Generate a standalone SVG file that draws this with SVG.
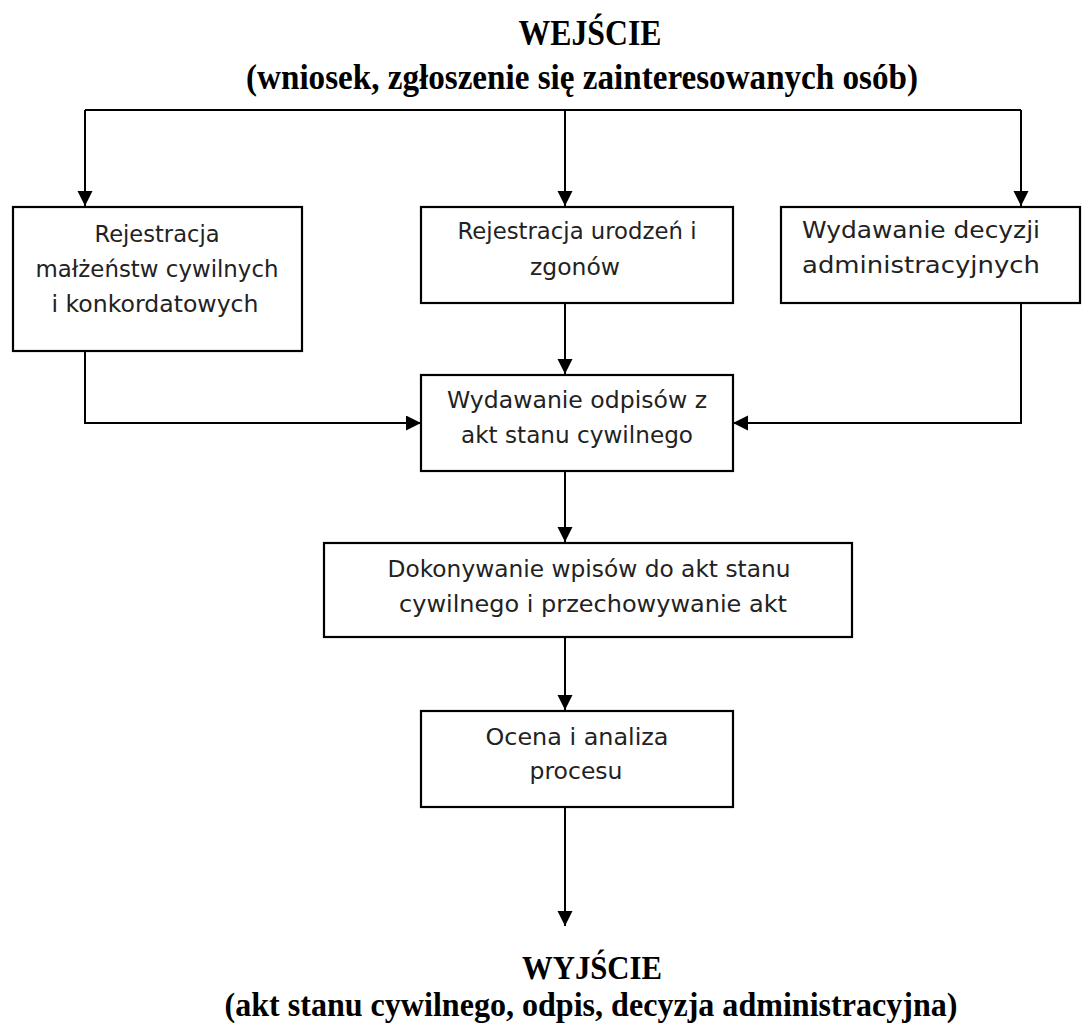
<svg xmlns="http://www.w3.org/2000/svg" width="1082" height="1025" viewBox="0 0 1082 1025">
<defs>
<marker id="arr" markerWidth="16" markerHeight="16" refX="15" refY="7.5" orient="auto" markerUnits="userSpaceOnUse">
<path d="M0,0 L15,7.5 L0,15 Z" fill="#000"/>
</marker>
<style>
.box{fill:#fff;stroke:#000;stroke-width:2.2}
.t{font-family:"DejaVu Sans","Liberation Sans",sans-serif;font-size:22.5px;fill:#222;text-anchor:middle}
.h{font-family:"Liberation Serif","Times New Roman",serif;font-size:35px;font-weight:bold;fill:#000;text-anchor:middle}
.hs{font-size:33px}
.c{fill:none;stroke:#000;stroke-width:2}
</style>
</defs>
<rect width="1082" height="1025" fill="#fff"/>
<g id="title-in">
<text class="h" x="590" y="45" textLength="143" lengthAdjust="spacingAndGlyphs">WEJŚCIE</text>
<text class="h" x="582" y="89" textLength="672" lengthAdjust="spacingAndGlyphs">(wniosek, zgłoszenie się zainteresowanych osób)</text>
</g>
<g id="connectors">
<path class="c" d="M85,110 L1021,110"/>
<path class="c" d="M85,110 L85,206" marker-end="url(#arr)"/>
<path class="c" d="M565,110 L565,206" marker-end="url(#arr)"/>
<path class="c" d="M1021,110 L1021,206" marker-end="url(#arr)"/>
<path class="c" d="M565,303 L565,374" marker-end="url(#arr)"/>
<path class="c" d="M85,351 L85,423 L421,423" marker-end="url(#arr)"/>
<path class="c" d="M1021,303 L1021,423 L733,423" marker-end="url(#arr)"/>
<path class="c" d="M565,471 L565,542" marker-end="url(#arr)"/>
<path class="c" d="M565,637 L565,710" marker-end="url(#arr)"/>
<path class="c" d="M565,807 L565,926" marker-end="url(#arr)"/>
</g>
<g id="node-malzenstwa">
<rect class="box" x="13" y="207" width="289" height="144"/>
<text class="t" x="157" y="242" textLength="125" lengthAdjust="spacingAndGlyphs">Rejestracja</text>
<text class="t" x="157" y="277" textLength="243" lengthAdjust="spacingAndGlyphs">małżeństw cywilnych</text>
<text class="t" x="155" y="312" textLength="207" lengthAdjust="spacingAndGlyphs">i konkordatowych</text>
</g>
<g id="node-urodzenia">
<rect class="box" x="421" y="207" width="312" height="96"/>
<text class="t" x="577" y="239" textLength="239" lengthAdjust="spacingAndGlyphs">Rejestracja urodzeń i</text>
<text class="t" x="575" y="275" textLength="90" lengthAdjust="spacingAndGlyphs">zgonów</text>
</g>
<g id="node-decyzje">
<rect class="box" x="781" y="207" width="299" height="96"/>
<text class="t" x="921" y="238" textLength="238" lengthAdjust="spacingAndGlyphs">Wydawanie decyzji</text>
<text class="t" x="921" y="273" textLength="238" lengthAdjust="spacingAndGlyphs">administracyjnych</text>
</g>
<g id="node-odpisy">
<rect class="box" x="421" y="375" width="312" height="96"/>
<text class="t" x="577" y="408" textLength="260" lengthAdjust="spacingAndGlyphs">Wydawanie odpisów z</text>
<text class="t" x="577" y="443" textLength="232" lengthAdjust="spacingAndGlyphs">akt stanu cywilnego</text>
</g>
<g id="node-wpisy">
<rect class="box" x="324" y="543" width="528" height="94"/>
<text class="t" x="589" y="577" textLength="403" lengthAdjust="spacingAndGlyphs">Dokonywanie wpisów do akt stanu</text>
<text class="t" x="593" y="612" textLength="388" lengthAdjust="spacingAndGlyphs">cywilnego i przechowywanie akt</text>
</g>
<g id="node-ocena">
<rect class="box" x="421" y="711" width="312" height="96"/>
<text class="t" x="577" y="745" textLength="183" lengthAdjust="spacingAndGlyphs">Ocena i analiza</text>
<text class="t" x="576" y="779" textLength="93" lengthAdjust="spacingAndGlyphs">procesu</text>
</g>
<g id="title-out">
<text class="h" x="592" y="979" style="font-size:34px" textLength="140" lengthAdjust="spacingAndGlyphs">WYJŚCIE</text>
<text class="h hs" x="591" y="1016" textLength="733" lengthAdjust="spacingAndGlyphs">(akt stanu cywilnego, odpis, decyzja administracyjna)</text>
</g>
</svg>
